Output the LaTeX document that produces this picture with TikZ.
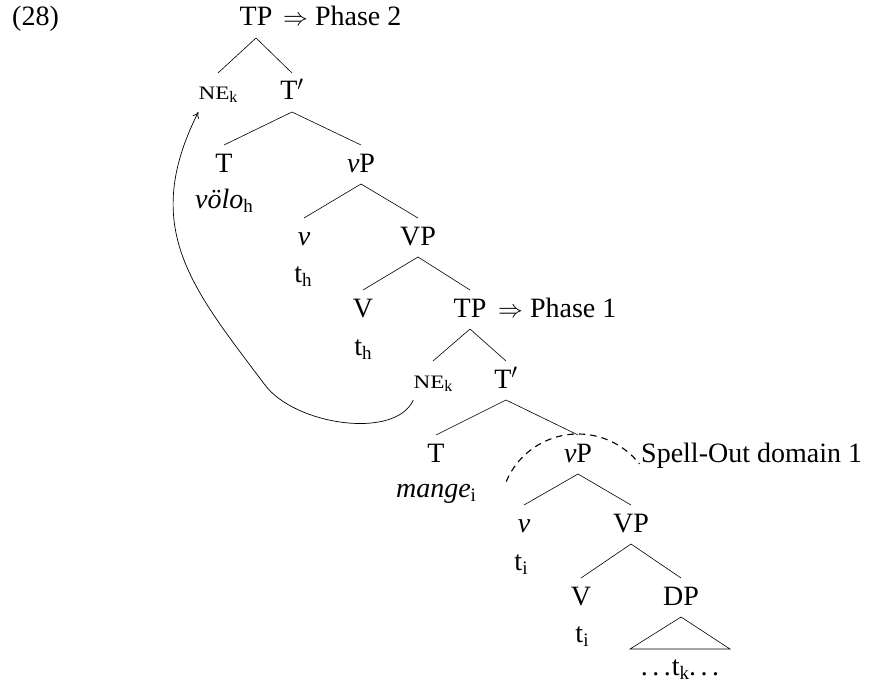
\documentclass[tikz,border=0pt]{standalone}
\usepackage{fontspec}
\setmainfont{Liberation Serif}
\newfontfamily\scfamily[FakeStretch=1.22]{Liberation Serif}
\usetikzlibrary{arrows.meta}
\newcommand\treefont{\fontsize{28}{34}\selectfont}
% small-capital NE with its index
\newcommand\negword[1]{{\scfamily\fontsize{19}{22}\selectfont NE}\raisebox{-3pt}{\fontsize{16}{16}\selectfont #1}}
% index subscripts
\newcommand\idx[1]{\raisebox{-4pt}{\fontsize{19}{19}\selectfont #1}}
\newcommand\spdots{.\kern4.5pt.\kern4.5pt.}
\begin{document}
\begin{tikzpicture}[x=1pt,y=1pt,
  every node/.style={font=\treefont, inner sep=0pt},
  cat/.style={anchor=base, text height=19pt, text depth=4pt, outer ysep=8pt},
  word/.style={anchor=base},
  note/.style={anchor=base west},
  branch/.style={line width=0.6pt},
  movement/.style={line width=0.7pt, -{To[length=6pt,width=7pt]}},
  spellout/.style={line width=1.1pt, dash pattern=on 6.5pt off 5pt}]
\useasboundingbox (0,0) rectangle (870,-682);

% example number
\node[note] (ex) at (12,-26) {(28)};

% upper clause
\node[cat] (TPa) at (256,-26) {TP};
\node[note] (ph2) at (283,-26) {$\Rightarrow$ Phase 2};
\node[cat] (NEa) at (218,-100) {\negword{k}};
\node[cat] (Tba) at (292,-100) {T$'$};
\node[cat] (Ta) at (224,-172) {T};
\node[word] (volo) at (224,-208) {\textit{völo}\idx{h}};
\node[cat] (vPa) at (361,-172) {\textit{v}P};
\node[cat] (va) at (304,-245) {\textit{v}};
\node[word] (tha) at (303,-282) {t\idx{h}};
\node[cat] (VPa) at (418,-245) {VP};
\node[cat] (Va) at (363,-317) {V};
\node[word] (thb) at (363,-355) {t\idx{h}};

% embedded clause
\node[cat] (TPb) at (470,-317) {TP};
\node[note] (ph1) at (498,-317) {$\Rightarrow$ Phase 1};
\node[cat] (NEb) at (433,-388) {\negword{k}};
\node[cat] (Tbb) at (506,-388) {T$'$};
\node[cat] (Tb) at (436,-462) {T};
\node[word] (mange) at (436,-497) {\textit{mange}\idx{i}};
\node[cat] (vPb) at (578,-462) {\textit{v}P};
\node[note] (sod) at (641,-462) {Spell-Out domain 1};
\node[cat] (vb) at (524,-532) {\textit{v}};
\node[word] (tia) at (521,-570) {t\idx{i}};
\node[cat] (VPb) at (631,-532) {VP};
\node[cat] (Vb) at (581,-605) {V};
\node[word] (tib) at (582,-642) {t\idx{i}};
\node[cat] (DP) at (681,-605) {DP};
\node[cat] (dots) at (680,-675) {\spdots\kern1pt t\idx{k}\spdots};

% branches
\draw[branch] (TPa.south) -- (NEa.north);
\draw[branch] (TPa.south) -- (Tba.north);
\draw[branch] (Tba.south) -- (Ta.north);
\draw[branch] (Tba.south) -- (vPa.north);
\draw[branch] (vPa.south) -- (va.north);
\draw[branch] (vPa.south) -- (VPa.north);
\draw[branch] (VPa.south) -- (Va.north);
\draw[branch] (VPa.south) -- (TPb.north);
\draw[branch] (TPb.south) -- (NEb.north);
\draw[branch] (TPb.south) -- (Tbb.north);
\draw[branch] (Tbb.south) -- (Tb.north);
\draw[branch] (Tbb.south) -- (vPb.north);
\draw[branch] (vPb.south) -- (vb.north);
\draw[branch] (vPb.south) -- (VPb.north);
\draw[branch] (VPb.south) -- (Vb.north);
\draw[branch] (VPb.south) -- (DP.north);
\draw[branch] (DP.south) -- ([xshift=-50pt,yshift=-1pt]dots.north)
  -- ([xshift=50pt,yshift=-1pt]dots.north) -- cycle;

% movement of NE to the higher specifier
\draw[movement] (NEb.south west)
  .. controls (395,-440) and (295,-425) .. (265,-385)
  .. controls (192,-288) and (140,-228) .. (NEa.south west);

% spell-out domain boundary
\coordinate (sodc) at (578,-512);
\draw[spellout] ([shift={(157:78pt)}]sodc)
  arc[start angle=157, end angle=38, radius=78pt];
\end{tikzpicture}
\end{document}
